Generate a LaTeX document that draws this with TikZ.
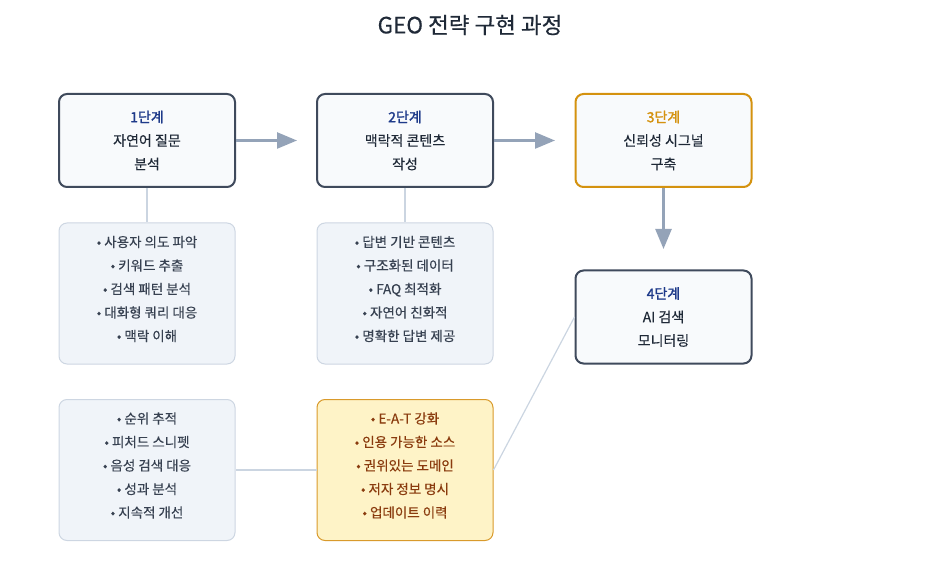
\documentclass[tikz,border=0pt]{standalone}
\usepackage{fontspec}
\setmainfont[FakeBold=0.35]{Noto Sans CJK KR}
\newfontfamily\labelfont[FakeBold=1.6]{Noto Sans CJK KR}
\usetikzlibrary{arrows.meta}
\definecolor{stepborder}{HTML}{3F4A5C}
\definecolor{stepfill}{HTML}{F8FAFC}
\definecolor{steplabel}{HTML}{1E3A8A}
\definecolor{steptext}{HTML}{1F2937}
\definecolor{orangeb}{HTML}{D4920F}
\definecolor{detfill}{HTML}{F0F4F9}
\definecolor{detborder}{HTML}{CDD6E2}
\definecolor{dettext}{HTML}{374151}
\definecolor{yelfill}{HTML}{FEF3C7}
\definecolor{yelborder}{HTML}{D99A2B}
\definecolor{yeltext}{HTML}{8A3B0E}
\definecolor{arrowc}{HTML}{94A3B8}
\definecolor{linec}{HTML}{CBD5E1}
\tikzset{
  stepbox/.style={draw=stepborder, fill=stepfill, line width=2pt, rounded corners=8pt,
    minimum width=176pt, minimum height=93pt, align=center, text=steptext,
    font=\fontsize{14}{23.5}\selectfont, inner sep=0pt},
  detbox/.style={draw=detborder, fill=detfill, line width=1pt, rounded corners=8pt,
    minimum width=176pt, minimum height=141pt, align=center, text=dettext,
    font=\fontsize{13.5}{23.5}\selectfont, inner sep=0pt},
  yelbox/.style={detbox, draw=yelborder, fill=yelfill, text=yeltext},
  dettextnode/.style={align=center, font=\fontsize{13.5}{23.5}\selectfont, inner sep=0pt},
  flowarrow/.style={draw=arrowc, line width=2.5pt, -{Triangle[length=20pt,width=16pt]}},
  linkline/.style={draw=linec, line width=1.2pt},
}
\begin{document}
\begin{tikzpicture}[x=1pt,y=-1pt]
\useasboundingbox (0,0) rectangle (940,588);
\node[font=\fontsize{22.5}{26}\selectfont, text=steptext] (title) at (470,25) {GEO 전략 구현 과정};

\node[stepbox] (s1) at (147,140.5) {{\labelfont\textcolor{steplabel}{1단계}}\\자연어 질문\\분석};
\node[stepbox] (s2) at (405,140.5) {{\labelfont\textcolor{steplabel}{2단계}}\\맥락적 콘텐츠\\작성};
\node[stepbox, draw=orangeb] (s3) at (663.5,140.5) {{\labelfont\textcolor{orangeb}{3단계}}\\신뢰성 시그널\\구축};
\node[stepbox] (s4) at (663.5,317) {{\labelfont\textcolor{steplabel}{4단계}}\\AI 검색\\모니터링};

\node[detbox] (d1) at (147,293.5) {};
\node[detbox] (d2) at (405,293.5) {};
\node[detbox] (d4) at (147,470) {};
\node[yelbox] (d3) at (405,470) {};
\node[dettextnode, text=dettext] (t1) at (147,289) {• 사용자 의도 파악\\• 키워드 추출\\• 검색 패턴 분석\\• 대화형 쿼리 대응\\• 맥락 이해};
\node[dettextnode, text=dettext] (t2) at (405,289) {• 답변 기반 콘텐츠\\• 구조화된 데이터\\• FAQ 최적화\\• 자연어 친화적\\• 명확한 답변 제공};
\node[dettextnode, text=dettext] (t4) at (147,465.5) {• 순위 추적\\• 피처드 스니펫\\• 음성 검색 대응\\• 성과 분석\\• 지속적 개선};
\node[dettextnode, text=yeltext] (t3) at (405,465.5) {• E-A-T 강화\\• 인용 가능한 소스\\• 권위있는 도메인\\• 저자 정보 명시\\• 업데이트 이력};

\coordinate (a1) at (297,140.5);
\coordinate (a2) at (555,140.5);
\coordinate (a3) at (663.5,249);
\draw[flowarrow] (s1.east) -- (a1);
\draw[flowarrow] (s2.east) -- (a2);
\draw[flowarrow] (s3.south) -- (a3);

\draw[linkline] (s1.south) -- (d1.north);
\draw[linkline] (s2.south) -- (d2.north);
\draw[linkline] (d3.west) -- (d4.east);
\draw[linkline] (d3.east) -- (s4.west);
\end{tikzpicture}
\end{document}
